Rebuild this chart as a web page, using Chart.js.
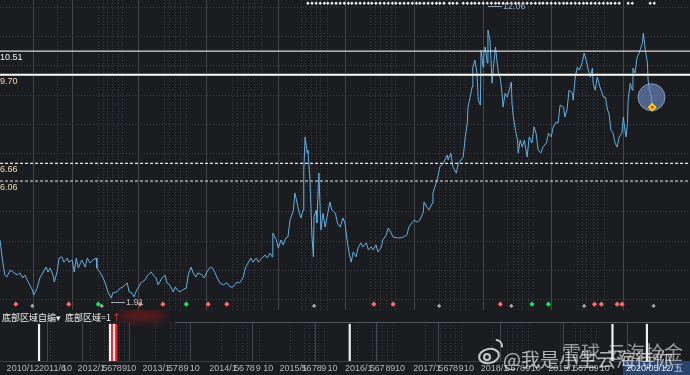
<!DOCTYPE html>
<html>
<head>
<meta charset="utf-8">
<script src="https://cdn.jsdelivr.net/npm/chart.js@4.4.1/dist/chart.umd.min.js"></script>
<style>
  html, body { margin: 0; padding: 0; background: #1b1c20; }
  #wrap { position: relative; width: 690px; height: 375px; overflow: hidden; background: #1b1c20; }
  #main { position: absolute; left: 0; top: 0; }
  #sub { position: absolute; left: 0; top: 310px; }
</style>
</head>
<body>
<div id="wrap">
  <canvas id="main" width="690" height="310"></canvas>
  <canvas id="sub" width="690" height="65"></canvas>
</div>
<script>
// closing prices, dates as decimal years
var priceDates = [
  2010.93, 2010.97, 2011.00, 2011.03, 2011.08, 2011.12, 2011.18, 2011.22, 2011.26, 2011.29,
  2011.34, 2011.40, 2011.42, 2011.47, 2011.51, 2011.56, 2011.60, 2011.63, 2011.66, 2011.70,
  2011.72, 2011.76, 2011.79, 2011.83, 2011.86, 2011.91, 2011.93, 2011.98, 2012.01, 2012.04,
  2012.07, 2012.12, 2012.17, 2012.20, 2012.24, 2012.28, 2012.33, 2012.34, 2012.39, 2012.43,
  2012.47, 2012.50, 2012.55, 2012.57, 2012.63, 2012.68, 2012.72, 2012.78, 2012.81, 2012.85,
  2012.88, 2012.92, 2012.95, 2012.98, 2013.04, 2013.08, 2013.13, 2013.16, 2013.20, 2013.23,
  2013.27, 2013.30, 2013.33, 2013.36, 2013.40, 2013.45, 2013.48, 2013.51, 2013.55, 2013.59,
  2013.64, 2013.67, 2013.71, 2013.74, 2013.78, 2013.81, 2013.87, 2013.90, 2013.94, 2013.99,
  2014.02, 2014.06, 2014.09, 2014.13, 2014.18, 2014.23, 2014.28, 2014.32, 2014.38, 2014.42,
  2014.47, 2014.50, 2014.54, 2014.58, 2014.61, 2014.66, 2014.69, 2014.74, 2014.79, 2014.82,
  2014.86, 2014.89, 2014.90, 2014.95, 2014.98, 2015.02, 2015.05, 2015.09, 2015.12, 2015.15,
  2015.20, 2015.22, 2015.25, 2015.28, 2015.31, 2015.34, 2015.35, 2015.37, 2015.40, 2015.41,
  2015.44, 2015.47, 2015.49, 2015.50, 2015.53, 2015.54, 2015.57, 2015.60, 2015.63, 2015.66,
  2015.69, 2015.73, 2015.76, 2015.81, 2015.84, 2015.88, 2015.92, 2015.95, 2015.98, 2016.01,
  2016.04, 2016.07, 2016.11, 2016.14, 2016.18, 2016.21, 2016.26, 2016.29, 2016.33, 2016.36,
  2016.40, 2016.43, 2016.48, 2016.50, 2016.55, 2016.58, 2016.62, 2016.65, 2016.71, 2016.75,
  2016.80, 2016.85, 2016.88, 2016.93, 2016.96, 2017.00, 2017.04, 2017.09, 2017.10, 2017.15,
  2017.17, 2017.22, 2017.23, 2017.29, 2017.33, 2017.38, 2017.44, 2017.45, 2017.49, 2017.52,
  2017.57, 2017.60, 2017.64, 2017.67, 2017.70, 2017.73, 2017.74, 2017.77, 2017.80, 2017.81,
  2017.84, 2017.87, 2017.89, 2017.92, 2017.93, 2017.96, 2017.97, 2017.99, 2018.02, 2018.03,
  2018.06, 2018.09, 2018.11, 2018.14, 2018.16, 2018.18, 2018.21, 2018.24, 2018.25, 2018.28,
  2018.31, 2018.34, 2018.37, 2018.38, 2018.40, 2018.43, 2018.46, 2018.47, 2018.50, 2018.53,
  2018.56, 2018.60, 2018.63, 2018.67, 2018.70, 2018.73, 2018.76, 2018.80, 2018.83, 2018.88,
  2018.91, 2018.95, 2018.98, 2019.02, 2019.05, 2019.08, 2019.13, 2019.15, 2019.18, 2019.21,
  2019.26, 2019.27, 2019.30, 2019.33, 2019.36, 2019.40, 2019.43, 2019.46, 2019.49, 2019.52,
  2019.55, 2019.56, 2019.59, 2019.62, 2019.66, 2019.71, 2019.74, 2019.77, 2019.79, 2019.82,
  2019.85, 2019.88, 2019.91, 2019.94, 2019.98, 2020.00, 2020.03, 2020.04, 2020.06, 2020.07,
  2020.10, 2020.13, 2020.14, 2020.17, 2020.20, 2020.23, 2020.28, 2020.29, 2020.32, 2020.35,
  2020.36, 2020.38, 2020.41, 2020.42
];
var priceClose = [
  4.04, 3.28, 2.84, 2.77, 3.01, 2.94, 2.84, 2.91, 2.74, 2.84,
  2.60, 2.33, 2.15, 2.39, 2.74, 2.94, 3.11, 2.94, 3.08, 2.84,
  2.60, 2.94, 3.42, 3.46, 3.28, 3.42, 3.28, 3.35, 2.94, 3.42,
  3.08, 3.35, 3.11, 3.42, 3.25, 3.35, 3.42, 3.08, 2.91, 2.74,
  2.50, 2.26, 2.05, 2.22, 2.26, 2.39, 2.43, 2.57, 2.26, 2.22,
  2.09, 2.33, 2.43, 2.57, 2.67, 2.84, 2.94, 2.84, 2.74, 2.50,
  2.67, 2.77, 2.84, 2.57, 2.50, 2.26, 2.43, 2.33, 2.26, 2.33,
  2.39, 2.84, 3.11, 2.91, 2.77, 2.91, 2.84, 2.74, 2.94, 3.11,
  3.08, 2.91, 2.74, 2.57, 2.50, 2.57, 2.43, 2.43, 2.60, 2.57,
  2.77, 3.08, 3.25, 3.42, 3.28, 3.42, 3.28, 3.42, 3.52, 3.42,
  3.59, 3.46, 4.28, 4.04, 3.76, 4.04, 3.87, 4.11, 4.14, 4.72,
  5.06, 5.65, 5.34, 5.00, 4.79, 5.06, 6.43, 7.57, 7.02, 7.12,
  6.09, 4.14, 3.46, 4.83, 5.06, 4.62, 6.33, 4.38, 4.96, 4.48,
  4.83, 5.34, 5.06, 4.96, 4.62, 4.48, 4.79, 4.62, 4.04, 3.59,
  3.28, 3.63, 3.46, 3.76, 3.94, 3.80, 3.94, 3.70, 3.80, 3.70,
  3.87, 3.63, 3.80, 4.04, 4.21, 4.45, 4.28, 4.14, 4.11, 4.11,
  4.14, 4.21, 4.48, 4.65, 4.72, 4.65, 4.72, 5.00, 5.34, 5.13,
  5.06, 5.30, 5.65, 6.09, 6.54, 6.67, 6.95, 6.78, 7.02, 6.54,
  6.33, 6.67, 6.78, 6.88, 7.57, 8.04, 8.59, 8.93, 9.28, 9.96,
  10.20, 9.76, 8.83, 8.66, 10.54, 9.96, 10.44, 10.65, 10.10, 11.23,
  10.89, 9.41, 9.96, 10.65, 10.20, 9.79, 9.59, 8.93, 8.59, 9.07,
  8.93, 9.17, 9.45, 8.73, 8.25, 7.80, 7.46, 7.02, 7.46, 7.22,
  7.46, 6.88, 7.57, 7.36, 7.91, 7.70, 7.12, 7.02, 7.22, 7.36,
  7.70, 7.57, 7.91, 8.08, 8.04, 8.66, 8.59, 8.25, 8.49, 9.17,
  9.07, 8.83, 9.62, 9.96, 9.86, 10.10, 10.44, 10.20, 9.86, 9.62,
  9.93, 9.41, 9.17, 9.62, 9.28, 8.93, 8.93, 8.49, 8.39, 7.80,
  7.70, 7.36, 7.22, 7.57, 7.70, 8.25, 7.70, 7.57, 8.04, 8.83,
  9.41, 9.17, 9.93, 9.76, 10.30, 10.44, 10.82, 11.13, 10.54, 10.10,
  9.52, 9.17, 8.93, 8.59
];

var levelValues = [10.51, 9.70, 6.66, 6.06];
var levelLabels = ["10.51", "9.70", "6.66", "6.06"];

var lowMark = { date: 2012.55, value: 1.91, text: "1.91" };
var highMark = { date: 2018.03, value: 12.06, text: "12.06" };

// signal markers
var redSignalDates = [2011.16, 2011.93, 2012.97, 2013.30, 2013.96, 2014.23, 2016.37, 2016.65,
  2018.21, 2019.58, 2019.68, 2019.91, 2019.98];
var greenSignalDates = [2012.36, 2013.64, 2018.67, 2018.91];
var greySignalDates = [2011.40, 2012.41, 2015.50, 2017.32, 2018.37, 2019.43, 2020.44];
var topSignalDates = [
  2015.41, 2015.47, 2015.53, 2015.59, 2015.65, 2015.70, 2015.76, 2015.82, 2015.88, 2015.94,
  2016.00, 2016.05, 2016.11, 2016.17, 2016.23, 2016.29, 2016.34, 2016.40, 2016.46, 2016.52,
  2016.58, 2016.64, 2016.69, 2016.75, 2016.81, 2016.87, 2016.93, 2016.99, 2017.04, 2017.10,
  2017.16, 2017.22, 2017.28, 2017.33, 2017.39, 2017.47, 2017.52, 2017.58, 2017.67, 2017.73,
  2017.79, 2017.84, 2017.90, 2017.96, 2018.02, 2018.08, 2018.14, 2018.19, 2018.25, 2018.31,
  2018.37, 2018.43, 2018.48, 2018.54, 2018.60, 2018.66, 2018.72, 2018.78, 2018.83, 2018.89,
  2018.95, 2019.01, 2019.07, 2019.13, 2019.18, 2019.24, 2019.30, 2019.36, 2019.42, 2019.47,
  2019.53, 2019.59, 2019.65, 2019.71, 2019.77, 2019.82, 2019.88, 2019.94, 2020.07, 2020.13,
  2020.39, 2020.45
];

// lower panel: 底部区域 = 1
var bottomWhiteDates = [2011.42, 2012.47, 2012.53, 2016.02, 2019.91, 2020.42];
var bottomRedDates = [2012.50, 2012.56];

// x axis
var axisTickDates = [2010.94, 2011.42, 2011.76,
  2011.99, 2012.36, 2012.43, 2012.50, 2012.57, 2012.65, 2012.71,
  2012.95, 2013.33, 2013.40, 2013.48, 2013.56, 2013.65,
  2013.94, 2014.31, 2014.38, 2014.47, 2014.54, 2014.63, 2014.74,
  2014.98, 2015.31, 2015.38, 2015.46, 2015.53, 2015.60, 2015.69,
  2015.95, 2016.32, 2016.39, 2016.46, 2016.55, 2016.62, 2016.69,
  2016.96, 2017.33, 2017.41, 2017.48, 2017.55, 2017.63, 2017.71,
  2017.96, 2018.32, 2018.40, 2018.47, 2018.54, 2018.62, 2018.70,
  2018.96, 2019.33, 2019.40, 2019.47, 2019.56, 2019.63, 2019.72];
var axisTickLabels = ["2010/12", "2011/6", "10",
  "2012/1", "5", "6", "7", "8", "9", "10",
  "2013/1", "5", "7", "8", "9", "10",
  "2014/1", "5", "6", "7", "8", "9", "10",
  "2015/1", "5", "6", "7", "8", "9", "10",
  "2016/1", "5", "6", "7", "8", "9", "10",
  "2017/1", "5", "6", "7", "8", "9", "10",
  "2018/1", "5", "6", "7", "8", "9", "10",
  "2019/1", "5", "6", "7", "8", "9", "10"];
var yearGridDates = [2011.42, 2011.99, 2012.95, 2013.94, 2014.98, 2015.95, 2016.96, 2017.96, 2018.96, 2020.00];
var priceGridValues = [2, 3, 4, 5, 6, 7, 8, 9, 10, 11, 12];
var cursorLabel = "2020/05/12/五";

var X_MIN = 2010.93, X_MAX = 2020.97;
var Y_MIN = 1.64, Y_MAX = 12.26;
var redRow = 1.84, greyRow = 1.78, topRow = 12.15;

var LINE_BLUE = "#62b0e2";
var YEAR_GRID = "#45464c";
var DOT_GRID = "#3b3c42";
var LABEL_FONT = "9px 'Liberation Sans', Arial, sans-serif";

function fixTicks(values) {
  return function (scale) {
    scale.ticks = values.map(function (v) { return { value: v }; });
  };
}
function noHeight(scale) { scale.height = 0; }
function noWidth(scale) { scale.width = 0; }
function pairs(dates, vals) {
  return dates.map(function (d, i) { return { x: d, y: vals[i] }; });
}
function row(dates, level) {
  return dates.map(function (d) { return { x: d, y: level }; });
}
function isMonthTick(i) {
  return axisTickLabels[i] && axisTickLabels[i].indexOf("/") < 0;
}

var lastIdx = priceDates.length - 1;

var levelSets = levelValues.map(function (v, i) {
  return {
    type: "line",
    data: [{ x: X_MIN, y: v }, { x: X_MAX, y: v }],
    borderColor: ["#d8d8d8", "#ffffff", "#e6e6e6", "#e6e6e6"][i],
    borderWidth: [1.3, 1.8, 1.2, 1.2][i],
    borderDash: i < 2 ? [] : [3, 2],
    pointRadius: 0
  };
});

var mainText = {
  id: "mainText",
  afterDatasetsDraw: function (chart) {
    var ctx = chart.ctx, x = chart.scales.x, y = chart.scales.y;
    ctx.save();
    ctx.font = LABEL_FONT;
    ctx.textBaseline = "top";
    levelValues.forEach(function (v, i) {
      ctx.fillStyle = i === 0 ? "#f2f2f2" : "#f3dcb8";
      ctx.fillText(levelLabels[i], 0, y.getPixelForValue(v) + 2);
    });
    [lowMark, highMark].forEach(function (m, i) {
      var px = Math.round(x.getPixelForValue(m.date));
      var py = Math.round(y.getPixelForValue(m.value)) + 0.5;
      ctx.strokeStyle = i === 0 ? "#a9adb3" : "#8ea3bb";
      ctx.lineWidth = 1;
      ctx.beginPath();
      ctx.moveTo(px, py);
      ctx.lineTo(px + 14, py);
      ctx.stroke();
      ctx.fillStyle = i === 0 ? "#b9bcc0" : "#93a8c0";
      ctx.textBaseline = "middle";
      ctx.fillText(m.text, px + 15, py);
    });
    ctx.restore();
  }
};

new Chart(document.getElementById("main"), {
  type: "line",
  data: {
    datasets: [
      { type: "scatter", data: [{ x: priceDates[lastIdx], y: priceClose[lastIdx] }],
        pointStyle: "circle", pointRadius: 1.4, backgroundColor: "#e0241c", borderWidth: 0 },
      { type: "scatter", data: [{ x: priceDates[lastIdx], y: priceClose[lastIdx] }],
        pointStyle: "rectRot", pointRadius: 4.5, backgroundColor: "#ffd400", borderColor: "#ffd400", borderWidth: 0 },
      { type: "scatter", data: [{ x: priceDates[lastIdx - 1], y: priceClose[lastIdx - 1] }],
        pointStyle: "circle", pointRadius: 13.5, backgroundColor: "rgba(112,145,200,0.62)",
        borderColor: "rgba(160,185,225,0.7)", borderWidth: 1 },
      levelSets[0], levelSets[1], levelSets[2], levelSets[3],
      { type: "line", data: pairs(priceDates, priceClose), borderColor: LINE_BLUE,
        borderWidth: 1, pointRadius: 0, tension: 0 },
      { type: "scatter", data: row(redSignalDates, redRow), pointStyle: "rectRot",
        pointRadius: 2.6, backgroundColor: "#ff6b6b", borderWidth: 0 },
      { type: "scatter", data: row(greenSignalDates, redRow), pointStyle: "rectRot",
        pointRadius: 2.6, backgroundColor: "#19e35a", borderWidth: 0 },
      { type: "scatter", data: row(greySignalDates, greyRow), pointStyle: "rectRot",
        pointRadius: 2.2, backgroundColor: "#a4a6aa", borderWidth: 0 },
      { type: "scatter", data: row(topSignalDates, topRow), pointStyle: "rectRot",
        pointRadius: 1.7, backgroundColor: "#f4f4f4", borderWidth: 0 }
    ]
  },
  options: {
    responsive: false,
    animation: false,
    events: [],
    layout: { padding: 0, autoPadding: false },
    plugins: { legend: { display: false }, tooltip: { enabled: false } },
    scales: {
      x: {
        type: "linear", position: "bottom", min: X_MIN, max: X_MAX,
        afterBuildTicks: fixTicks(axisTickDates), afterFit: noHeight,
        ticks: { display: false },
        grid: { drawTicks: false, color: function (c) { return isMonthTick(c.index) ? DOT_GRID : "rgba(0,0,0,0)"; } },
        border: { display: true, color: "#4c4d53", width: 1, dash: [1, 2] }
      },
      xYear: {
        type: "linear", position: "bottom", min: X_MIN, max: X_MAX,
        afterBuildTicks: fixTicks(yearGridDates), afterFit: noHeight,
        ticks: { display: false },
        grid: { drawTicks: false, color: YEAR_GRID },
        border: { display: false }
      },
      y: {
        type: "linear", position: "left", min: Y_MIN, max: Y_MAX,
        afterBuildTicks: fixTicks(priceGridValues), afterFit: noWidth,
        ticks: { display: false },
        grid: { drawTicks: false, color: DOT_GRID },
        border: { display: false, dash: [1, 2] }
      }
    }
  },
  plugins: [mainText]
});

var subText = {
  id: "subText",
  beforeDatasetsDraw: function (chart) {
    var ctx = chart.ctx, area = chart.chartArea;
    ctx.save();
    // panel top line
    ctx.strokeStyle = "#55565c";
    ctx.lineWidth = 1;
    ctx.beginPath();
    ctx.moveTo(175, area.top + 0.5);
    ctx.lineTo(area.right, area.top + 0.5);
    ctx.stroke();
    // blurred red patch next to the title
    ctx.filter = "blur(4px)";
    ctx.fillStyle = "rgba(120,26,26,0.75)";
    ctx.beginPath();
    ctx.ellipse(142, 5, 24, 6, 0, 0, Math.PI * 2);
    ctx.fill();
    ctx.filter = "none";
    ctx.restore();
  },
  afterDraw: function (chart) {
    var ctx = chart.ctx, area = chart.chartArea;
    ctx.save();
    ctx.textBaseline = "alphabetic";
    ctx.font = "9px 'Noto Sans CJK SC', sans-serif";
    ctx.fillStyle = "#eeeeee";
    ctx.fillText("底部区域自编", 2, 11);
    ctx.fillText("▾", 56, 11);
    ctx.fillText("底部区域=1", 65, 11);
    ctx.fillStyle = "#ff3b3b";
    ctx.fillText("↑", 112, 11);

    // cursor date box
    ctx.fillStyle = "#2a4470";
    ctx.fillRect(area.right - 67, area.bottom + 1, 67, 14);
    ctx.fillStyle = "#dfe4ee";
    ctx.font = LABEL_FONT;
    ctx.textBaseline = "top";
    ctx.fillText(cursorLabel, area.right - 64, area.bottom + 3);

    // watermark
    ctx.globalAlpha = 0.85;
    ctx.strokeStyle = "#e8e8e8";
    ctx.lineWidth = 2;
    ctx.beginPath();
    ctx.ellipse(489, 46, 10, 7, -0.2, 0, Math.PI * 2);
    ctx.stroke();
    ctx.beginPath();
    ctx.arc(487, 47, 3, 0, Math.PI * 2);
    ctx.stroke();
    ctx.beginPath();
    ctx.arc(496, 36, 6, -1.6, 0.2);
    ctx.stroke();
    ctx.font = "19px 'Noto Sans CJK SC', sans-serif";
    ctx.textBaseline = "alphabetic";
    ctx.fillStyle = "rgba(236,236,236,0.85)";
    ctx.fillText("@我是小生云海待你", 503, 57);
    ctx.fillStyle = "rgba(236,236,236,0.7)";
    ctx.fillText("雪球", 562, 50);
    ctx.fillText("云海拾金", 607, 50);
    ctx.restore();
  }
};

new Chart(document.getElementById("sub"), {
  type: "bar",
  data: {
    datasets: [
      { data: row(bottomWhiteDates, 1), backgroundColor: "#f2f2f2", barThickness: 1.5, grouped: false },
      { data: row(bottomRedDates, 1), backgroundColor: "#ff1f1f", barThickness: 2, grouped: false }
    ]
  },
  options: {
    responsive: false,
    animation: false,
    events: [],
    layout: { padding: { top: 12, left: 0, right: 0, bottom: 0 }, autoPadding: false },
    plugins: { legend: { display: false }, tooltip: { enabled: false } },
    scales: {
      x: {
        type: "linear", position: "bottom", min: X_MIN, max: X_MAX,
        afterBuildTicks: fixTicks(axisTickDates),
        afterFit: function (s) { s.height = 14; },
        ticks: {
          display: true, autoSkip: false, maxRotation: 0, minRotation: 0,
          align: "start", padding: 2, color: "#b4b6ba", font: { family: "'Liberation Sans', Arial, sans-serif", size: 9 },
          callback: function (v, i) { return axisTickLabels[i]; }
        },
        grid: { drawTicks: false, color: function (c) { return isMonthTick(c.index) ? DOT_GRID : "rgba(0,0,0,0)"; } },
        border: { display: true, color: "#8c1d1d", width: 1, dash: [1, 2] }
      },
      xYear: {
        type: "linear", position: "bottom", min: X_MIN, max: X_MAX,
        afterBuildTicks: fixTicks(yearGridDates), afterFit: noHeight,
        ticks: { display: false },
        grid: { drawTicks: false, color: YEAR_GRID },
        border: { display: false }
      },
      y: {
        type: "linear", position: "left", min: 0, max: 1.06,
        afterFit: noWidth,
        ticks: { display: false },
        grid: { display: false },
        border: { display: false }
      }
    }
  },
  plugins: [subText]
});
</script>
</body>
</html>
